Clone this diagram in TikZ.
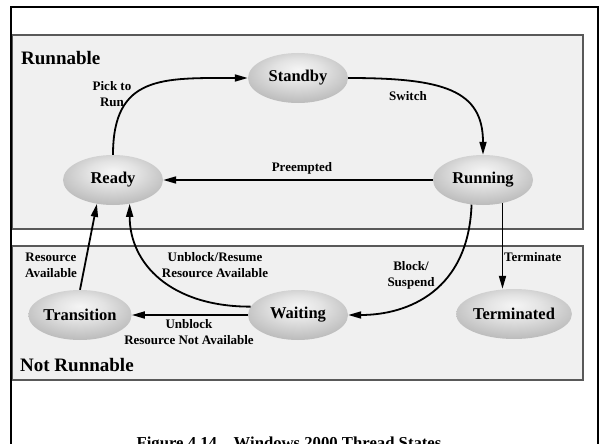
\documentclass[tikz,border=0pt]{standalone}
\usepackage{fontspec}
\setmainfont{Liberation Serif}
\usetikzlibrary{arrows.meta,shapes.geometric}

% soft grey ball look for the thread states, lit from just above the centre
\pgfdeclareradialshading{statefill}{\pgfpoint{0bp}{9bp}}{%
  color(0bp)=(white!96!black);
  color(12bp)=(white!89!black);
  color(30bp)=(white!73!black);
  color(46bp)=(white!58!black);
  color(62bp)=(white!48!black)}

\begin{document}
\begin{tikzpicture}[x=1pt,y=-1pt,
  state/.style={ellipse, shading=statefill, minimum width=100pt, minimum height=50pt,
    inner sep=0pt, font=\fontsize{16.5}{18}\selectfont\bfseries},
  region/.style={draw=black!65, fill=black!6, line width=1.2pt},
  trans/.style={draw=black, line width=1.8pt, -{Triangle[length=13pt,width=7pt]}},
  lbl/.style={font=\fontsize{13}{16}\selectfont\bfseries, align=center, inner sep=0pt},
  regiontitle/.style={font=\fontsize{19}{22}\selectfont\bfseries, anchor=base west, inner sep=0pt},
]
\useasboundingbox (0,0) rectangle (600,444);

% the two groups of states
\draw[region] (12,35) rectangle (583,229);
\draw[region] (12,246) rectangle (583,380);

% page frame
\draw[line width=2pt] (11,460) -- (11,7) -- (598,7) -- (598,460);

\node[regiontitle] (trun) at (21,65) {Runnable};
\node[regiontitle] (tnot) at (20,371) {Not Runnable};

% states
\node[state] (standby)    at (298,78)  {Standby};
\node[state] (ready)      at (113,180) {Ready};
\node[state] (running)    at (483,180) {Running};
\node[state] (transition) at (80,315)  {Transition};
\node[state] (waiting)    at (298,315) {Waiting};
\node[state, minimum width=96pt] (terminated) at (514,314) {Terminated};

% transitions
\draw[trans] (ready.north) .. controls +(0,-80) and +(-85,0) .. (standby.west);
\draw[trans] (standby.east) .. controls +(95,0) and +(0,-65) .. (running.north);
\draw[trans] (running.west) -- (ready.east);
\draw[trans] (running.245) .. controls +(-3,86) and +(60,0) .. (waiting.east);
\draw[trans] (running.310) -- (running.310 |- terminated.north);
\draw[trans] (waiting.170) .. controls +(-80,0) and +(0,60) .. (ready.305);
\draw[trans] (transition.north) -- (ready.236);
\draw[trans] (waiting.west) -- (transition.east);

% transition labels
\node[lbl] (lpick)    at (112,94)  {Pick to\\Run};
\node[lbl] (lswitch)  at (408,96)  {Switch};
\node[lbl] (lpre)     at (302,168) {Preempted};
\node[lbl] (lunres)   at (215,265) {Unblock/Resume\\Resource Available};
\node[lbl] (lresav)   at (51,265.5) {Resource\\Available};
\node[lbl] (lblock)   at (411,275) {Block/\\Suspend};
\node[lbl, anchor=west] (lterm) at (504,257) {Terminate};
\node[lbl] (lunblock) at (189,332) {Unblock\\Resource Not Available};

% caption
\node[font=\fontsize{16.7}{20}\selectfont\bfseries, anchor=base, inner sep=0pt] (cap)
  at (289,448) {Figure 4.14\quad Windows 2000 Thread States};
\end{tikzpicture}
\end{document}
